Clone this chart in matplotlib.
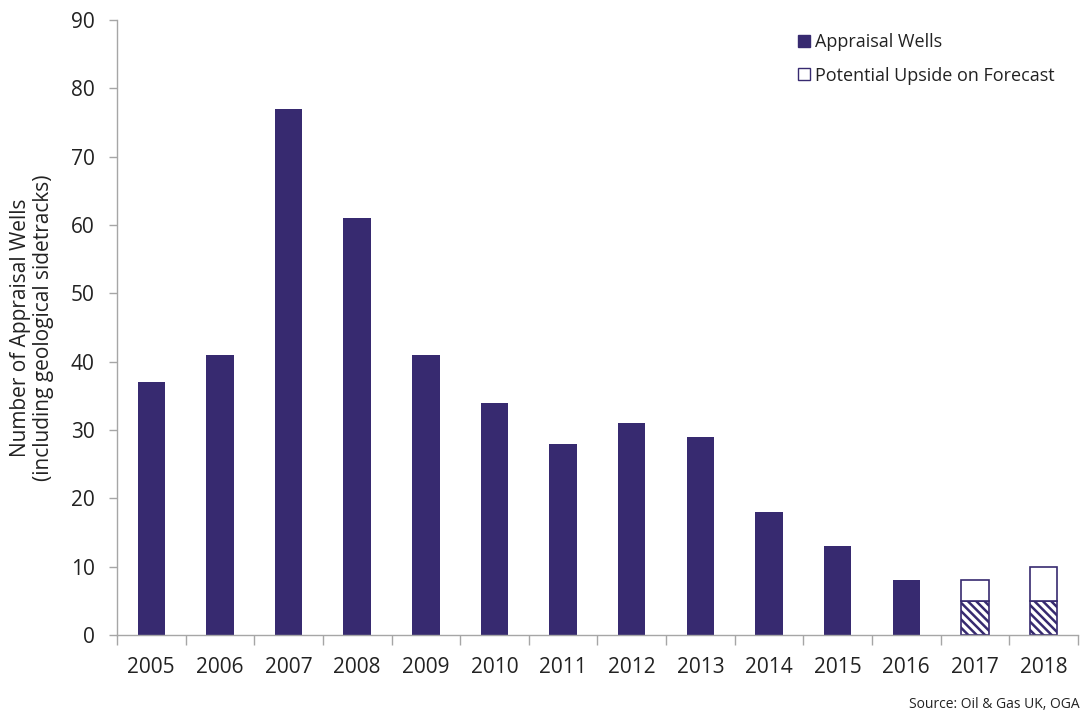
import numpy as np
import matplotlib
matplotlib.use('Agg')
from matplotlib import pyplot as plt
from matplotlib.patches import Patch

# Appraisal wells per year, with forecast split for 2017/2018
years = ['2005', '2006', '2007', '2008', '2009', '2010', '2011', '2012',
         '2013', '2014', '2015', '2016', '2017', '2018']
wells = [37, 41, 77, 61, 41, 34, 28, 31, 29, 18, 13, 8]
forecast = [5, 5]
upside = [3, 5]

navy = '#372a70'
grey = '#a6a6a6'
fs = 15

plt.rcParams['font.family'] = ['Open Sans', 'DejaVu Sans']
plt.rcParams['hatch.linewidth'] = 1.8
plt.rcParams['hatch.color'] = navy

fig = plt.figure(figsize=(10.8, 7.15), dpi=100)
ax = fig.add_axes([0.1083, 0.112, 0.8897, 0.860])

x = np.arange(len(years))
w = 0.4
nh = len(wells)
ax.bar(x[:nh], wells, width=w, color=navy, edgecolor=navy, linewidth=0)
ax.bar(x[nh:], forecast, width=w, facecolor='white', edgecolor=navy,
       linewidth=1.2, hatch='\\\\\\\\')
ax.bar(x[nh:], upside, bottom=forecast, width=w, facecolor='white',
       edgecolor=navy, linewidth=1.2)

ax.set_xlim(-0.5, len(years) - 0.5)
ax.set_ylim(0, 90)
ax.set_yticks(np.arange(0, 91, 10))
ax.set_xticks(x)
ax.set_xticklabels(years)
ax.set_xticks(np.arange(-0.5, len(years), 1.0), minor=True)
ax.tick_params(axis='x', which='major', length=0, pad=16, labelsize=fs)
ax.tick_params(axis='x', which='minor', length=7, color=grey, width=1)
ax.tick_params(axis='y', length=6, color=grey, width=1, pad=10, labelsize=fs,
               labelcolor='#222222')
ax.tick_params(axis='x', labelcolor='#222222')

for s in ['top', 'right']:
    ax.spines[s].set_visible(False)
for s in ['left', 'bottom']:
    ax.spines[s].set_color(grey)
    ax.spines[s].set_linewidth(1)

ax.set_ylabel('Number of Appraisal Wells\n(including geological sidetracks)',
              fontsize=fs, labelpad=12, color='#222222', linespacing=1.15)

handles = [Patch(facecolor=navy, edgecolor=navy),
           Patch(facecolor='white', edgecolor=navy, linewidth=1)]
ax.legend(handles, ['Appraisal Wells', 'Potential Upside on Forecast'],
          loc='upper right', bbox_to_anchor=(0.993, 1.005), frameon=False,
          fontsize=13, handlelength=0.65, handleheight=0.65,
          handletextpad=0.3, labelspacing=0.85, labelcolor='#222222')

fig.text(1.0, 0.004, 'Source: Oil & Gas UK, OGA', ha='right', va='bottom',
         fontsize=10, color='#222222')

plt.savefig('out.png', dpi=100)
